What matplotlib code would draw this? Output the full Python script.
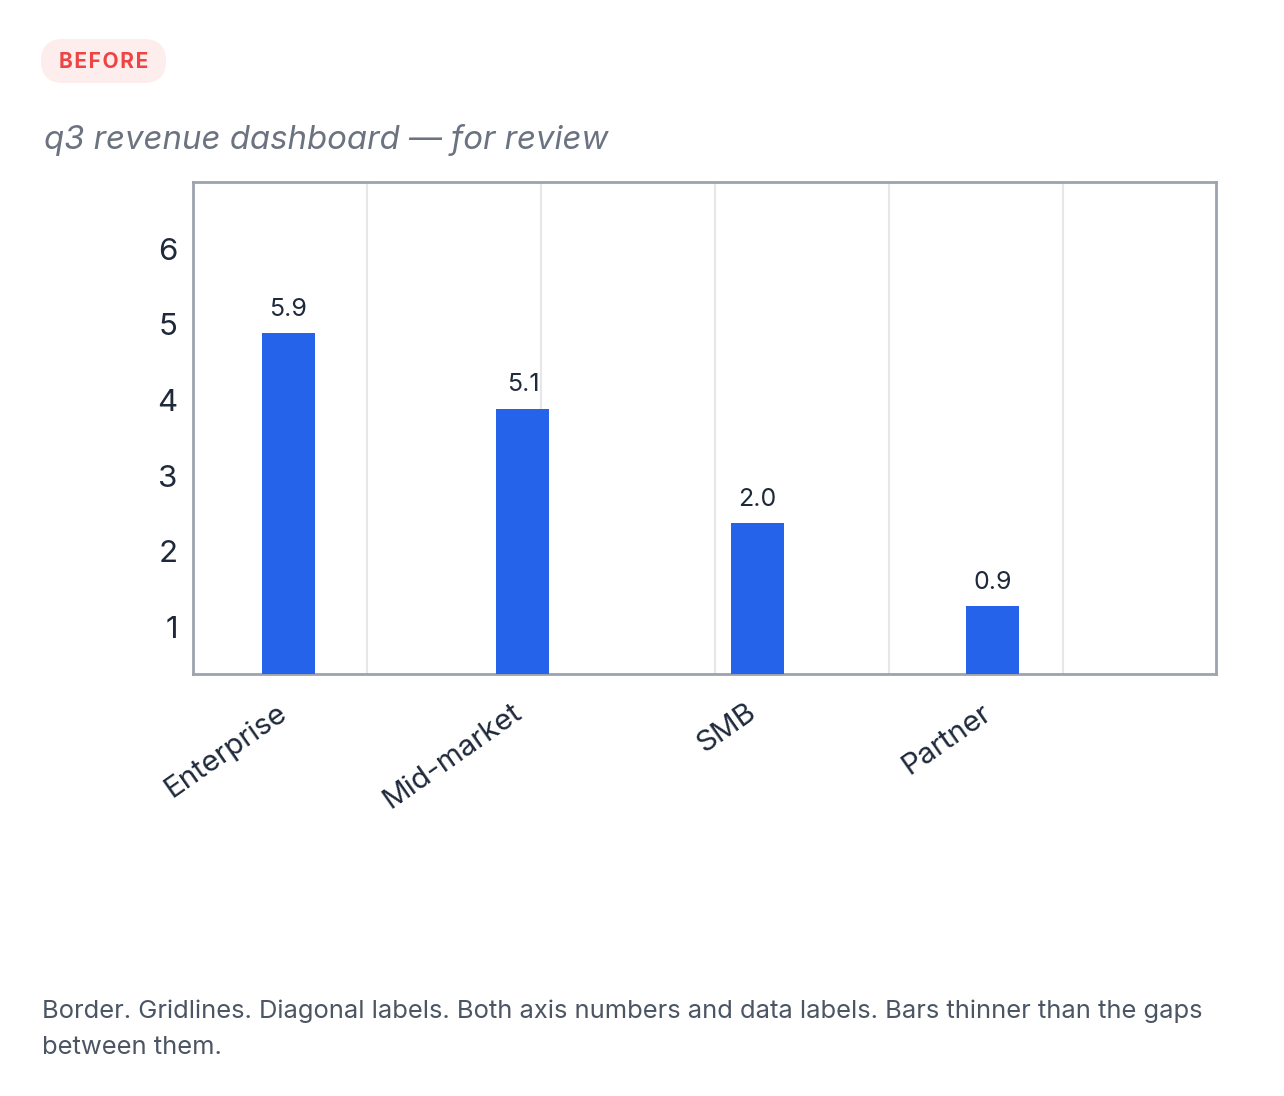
import matplotlib
matplotlib.use("Agg")
import matplotlib.pyplot as plt
import matplotlib.transforms as mtransforms
from matplotlib.patches import FancyBboxPatch

# ---- data ----
categories = ["Enterprise", "Mid-market", "SMB", "Partner"]
bar_heights = [4.88, 3.88, 2.37, 1.27]          # bar tops as read on the y axis
data_labels = ["5.9", "5.1", "2.0", "0.9"]       # printed data labels
y_ticks = [1, 2, 3, 4, 5, 6]
grid_ticks = [1, 2, 3, 4, 5]

plt.rcParams['font.family'] = ['Inter', 'DejaVu Sans']

W, H, DPI = 1284, 1096, 100
fig = plt.figure(figsize=(W / DPI, H / DPI), dpi=DPI, facecolor="white")

rect = [193 / W, 1 - 674 / H, (1216 - 193) / W, (674 - 182) / H]

# vertical gridlines on an independent x scale, drawn underneath
gx = fig.add_axes(rect, zorder=1)
gx.set_xlim(0, 5.88)
gx.set_xticks(grid_ticks)
gx.set_yticks([])
gx.tick_params(axis="x", length=0, labelbottom=False)
gx.grid(True, axis="x", color="#E5E7EB", linewidth=1.5)
for s in gx.spines.values():
    s.set_visible(False)

ax = fig.add_axes(rect, zorder=2)
ax.patch.set_visible(False)
x = list(range(len(categories)))
ax.bar(x, bar_heights, width=0.226, color="#2563EB", zorder=3)
ax.set_xlim(-0.405, 3.952)
ax.set_ylim(0.374, 6.883)
ax.set_yticks(y_ticks)
ax.set_yticklabels([str(t) for t in y_ticks])
ax.set_xticks(x)
ax.set_xticklabels(categories, rotation=35, ha="right", rotation_mode="anchor")
ax.tick_params(axis="y", length=0, pad=11, labelsize=22.5, labelcolor="#1E293B")
ax.tick_params(axis="x", length=0, pad=18, labelsize=21.3, labelcolor="#1E293B")
shift = mtransforms.ScaledTranslation(-0.12, 0, fig.dpi_scale_trans)
for lab in ax.get_xticklabels():
    lab.set_transform(lab.get_transform() + shift)
for s in ax.spines.values():
    s.set_color("#9CA3AF")
    s.set_linewidth(2)

for xi, h, lab in zip(x, bar_heights, data_labels):
    ax.annotate(lab, (xi, h), xytext=(0, 9), textcoords="offset points",
                ha="center", va="bottom", fontsize=18, color="#1E293B")

# badge
badge = FancyBboxPatch((0.41, (H - 83) / DPI), 1.25, 0.44,
                       boxstyle="round,pad=0,rounding_size=0.22",
                       transform=fig.dpi_scale_trans, facecolor="#FDEDED",
                       edgecolor="none")
fig.add_artist(badge)
fig.text(103.5 / W, 1 - 62 / H, "\u200a".join("BEFORE"),
         ha="center", va="center", fontsize=15, fontweight="bold",
         color="#EF4444")

fig.text(44 / W, 1 - 140 / H, "q3 revenue dashboard \u2014 for review",
         ha="left", va="center", fontsize=23.7, fontstyle="italic",
         color="#6B7280")

fig.text(42 / W, 1 - 1029 / H,
         "Border. Gridlines. Diagonal labels. Both axis numbers and data labels. "
         "Bars thinner than the gaps\nbetween them.",
         ha="left", va="center", fontsize=18.4, color="#4B5563",
         linespacing=1.7)

fig.savefig("out.png", dpi=DPI, facecolor="white")
